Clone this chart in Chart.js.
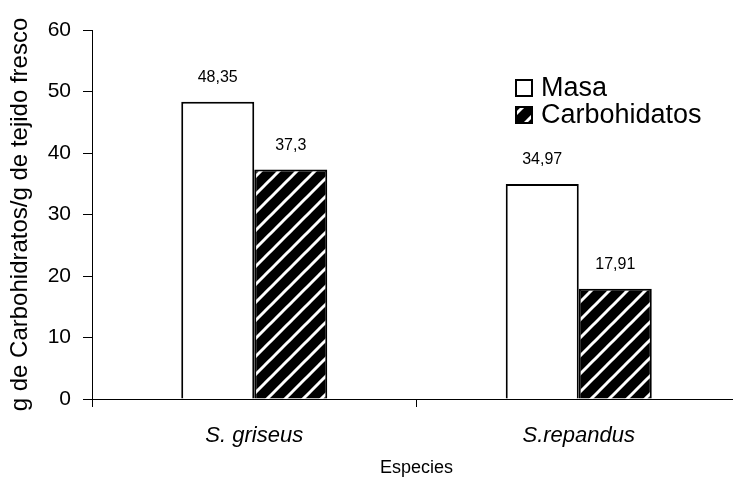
<!DOCTYPE html>
<html>
<head>
<meta charset="utf-8">
<script src="https://cdn.jsdelivr.net/npm/chart.js@4.4.0/dist/chart.umd.min.js"></script>
<style>
  html, body { margin: 0; padding: 0; background: #fff; overflow: hidden; }
</style>
</head>
<body>
<canvas id="myChart" width="745" height="487"></canvas>
<script>
const species = ["S. griseus", "S.repandus"];
const masa = [48.35, 34.97];
const carbohidratos = [37.3, 17.91];
const seriesNames = ["Masa", "Carbohidatos"];
const yMin = 0;
const yMax = 60;
const yStep = 10;

const FONT = '"Liberation Sans", Arial, sans-serif';

// black with white diagonal stripes "/"
function makeStripes() {
  const size = 18;
  const c = document.createElement("canvas");
  c.width = size;
  c.height = size;
  const g = c.getContext("2d");
  g.fillStyle = "#000";
  g.fillRect(0, 0, size, size);
  g.strokeStyle = "#fff";
  g.lineWidth = 3;
  for (let k = -1; k <= 1; k++) {
    g.beginPath();
    g.moveTo(k * size - 2, size + 2);
    g.lineTo(k * size + size + 2, -2);
    g.stroke();
  }
  return g.createPattern(c, "repeat");
}

const stripes = makeStripes();

const valueLabels = {
  id: "valueLabels",
  afterDatasetsDraw(chart) {
    const ctx = chart.ctx;
    ctx.save();
    ctx.font = "16px " + FONT;
    ctx.fillStyle = "#000";
    ctx.textAlign = "center";
    ctx.textBaseline = "alphabetic";
    chart.data.datasets.forEach((ds, i) => {
      chart.getDatasetMeta(i).data.forEach((bar, j) => {
        ctx.fillText(String(ds.data[j]).replace(".", ","), bar.x, bar.y - 20);
      });
    });
    ctx.restore();
  },
};

const boxLegend = {
  id: "boxLegend",
  afterDraw(chart) {
    const ctx = chart.ctx;
    ctx.save();
    ctx.font = "27px " + FONT;
    ctx.textBaseline = "middle";
    ctx.textAlign = "left";
    chart.data.datasets.forEach((ds, i) => {
      const bx = 516;
      const by = 80 + i * 27;
      ctx.fillStyle = ds.backgroundColor;
      ctx.fillRect(bx, by, 16, 16);
      ctx.strokeStyle = "#000";
      ctx.lineWidth = 2;
      ctx.strokeRect(bx, by, 16, 16);
      ctx.fillStyle = "#000";
      ctx.fillText(ds.label, bx + 25, by + 9);
    });
    ctx.restore();
  },
};

const ctx = document.getElementById("myChart").getContext("2d");

const myChart = new Chart(ctx, {
  type: "bar",
  data: {
    labels: species,
    datasets: [
      {
        label: seriesNames[0],
        data: masa,
        backgroundColor: "#fff",
        borderColor: "#000",
        borderWidth: 2,
        categoryPercentage: 0.45,
        barPercentage: 1,
      },
      {
        label: seriesNames[1],
        data: carbohidratos,
        backgroundColor: stripes,
        borderColor: "#000",
        borderWidth: 2,
        categoryPercentage: 0.45,
        barPercentage: 1,
      },
    ],
  },
  options: {
    responsive: false,
    animation: false,
    devicePixelRatio: 1,
    layout: { padding: { top: 30, left: 0, right: 4, bottom: 0 } },
    plugins: {
      legend: { display: false },
      tooltip: { enabled: false },
    },
    scales: {
      x: {
        offset: true,
        grid: {
          offset: true,
          drawOnChartArea: false,
          drawTicks: true,
          tickLength: 8,
          color: "#000",
        },
        border: { color: "#000", width: 1 },
        ticks: {
          color: "#000",
          padding: 16,
          font: { family: FONT, size: 22, style: "italic" },
        },
        title: {
          display: true,
          text: "Especies",
          color: "#000",
          font: { family: FONT, size: 18 },
          padding: { top: 4, bottom: 8 },
        },
        afterFit(scale) {
          scale.height = 88;
        },
      },
      y: {
        min: yMin,
        max: yMax,
        grid: {
          drawOnChartArea: false,
          drawTicks: true,
          tickLength: 9,
          color: "#000",
        },
        border: { color: "#000", width: 1 },
        ticks: {
          stepSize: yStep,
          color: "#000",
          padding: 12,
          font: { family: FONT, size: 21 },
        },
        title: {
          display: true,
          text: "g de Carbohidratos/g de tejido fresco",
          color: "#000",
          font: { family: FONT, size: 24 },
          padding: { top: 6, bottom: 4 },
        },
        afterFit(scale) {
          scale.width = 92;
        },
      },
    },
  },
  plugins: [valueLabels, boxLegend],
});
</script>
</body>
</html>
